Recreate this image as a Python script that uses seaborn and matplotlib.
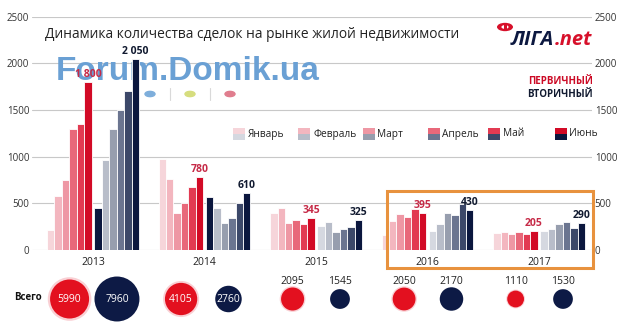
import matplotlib
matplotlib.use("Agg")
import matplotlib.pyplot as plt
import numpy as np
import pandas as pd
import seaborn as sns
from matplotlib.patches import Rectangle, Circle

# ---- data -------------------------------------------------------------
years = ["2013", "2014", "2015", "2016", "2017"]
months = ["Январь", "Февраль", "Март", "Апрель", "Май", "Июнь"]

# primary market (Jan..Jun) per year
primary_2013 = [210, 580, 750, 1300, 1350, 1800]
primary_2014 = [980, 760, 400, 505, 680, 780]
primary_2015 = [400, 455, 290, 325, 280, 345]
primary_2016 = [165, 310, 390, 355, 435, 395]
primary_2017 = [180, 195, 170, 190, 170, 205]

# secondary market (Jan..Jun) per year
secondary_2013 = [450, 960, 1300, 1500, 1700, 2050]
secondary_2014 = [570, 450, 285, 345, 500, 610]
secondary_2015 = [260, 300, 195, 220, 245, 325]
secondary_2016 = [205, 275, 400, 370, 490, 430]
secondary_2017 = [205, 220, 275, 300, 240, 290]

total_primary = [5990, 4105, 2095, 2050, 1110]
total_secondary = [7960, 2760, 1545, 2170, 1530]

primary = [primary_2013, primary_2014, primary_2015, primary_2016, primary_2017]
secondary = [secondary_2013, secondary_2014, secondary_2015, secondary_2016, secondary_2017]

# years whose January secondary bar is shown in the darkest navy
dark_jan_secondary = ["2013", "2014"]

y_ticks = [0, 500, 1000, 1500, 2000, 2500]

# ---- style ------------------------------------------------------------
red_shades = ["#f6d5da", "#f3b6bf", "#ee97a4", "#e8687a", "#e23a52", "#d20a26"]
navy_shades = ["#d5d8e0", "#b8bdc9", "#979eae", "#6b7590", "#3c4869", "#0b173e"]
RED_LABEL = "#c62a47"
NAVY_LABEL = "#111a30"

sns.set_theme(style="white")
plt.rcParams["font.family"] = ["Open Sans", "DejaVu Sans"]

W, H, DPI = 634, 332, 100
fig = plt.figure(figsize=(W / DPI, H / DPI), dpi=DPI)
fig.patch.set_facecolor("white")


def fx(x):
    return x / W


def fy(y):
    return 1 - y / H


AX_L, AX_R, AX_T, AX_B = 32, 592, 16.7, 250
XLIM = (-0.547, 4.475)
ax = fig.add_axes([fx(AX_L), fy(AX_B), (AX_R - AX_L) / W, (AX_B - AX_T) / H])

# ---- bars -------------------------------------------------------------
OFF = 0.212
rows_p, rows_s = [], []
for i, yr in enumerate(years):
    for m, vp, vs in zip(months, primary[i], secondary[i]):
        rows_p.append({"pos": i - OFF, "month": m, "value": vp})
        rows_s.append({"pos": i + OFF, "month": m, "value": vs})
df_p = pd.DataFrame(rows_p)
df_s = pd.DataFrame(rows_s)

common = dict(x="pos", y="value", hue="month", hue_order=months,
              native_scale=True, width=0.4, errorbar=None, legend=False,
              saturation=1, edgecolor="white", linewidth=0.6, ax=ax, zorder=2)
sns.barplot(data=df_p, palette=red_shades, **common)
sns.barplot(data=df_s, palette=navy_shades, **common)

for j, yr in enumerate(years):
    if yr in dark_jan_secondary:
        ax.containers[6][j].set_facecolor(navy_shades[-1])


def fmt(v):
    return f"{v:,}".replace(",", "\u00a0")


ax.bar_label(ax.containers[5], labels=[fmt(p[-1]) for p in primary],
             padding=1.5, color=RED_LABEL, fontweight="bold", fontsize=7.5, zorder=4)
ax.bar_label(ax.containers[11], labels=[fmt(s[-1]) for s in secondary],
             padding=1.5, color=NAVY_LABEL, fontweight="bold", fontsize=7.5, zorder=4)

ax.set_xlim(*XLIM)
ax.set_ylim(0, 2500)
ax.set_xticks(range(len(years)), years)
ax.set_yticks(y_ticks, [str(t) for t in y_ticks])
ax.set_xlabel("")
ax.set_ylabel("")
for s in ax.spines.values():
    s.set_visible(False)
ax.grid(axis="y", color="#c8c8c8", linewidth=0.8)
ax.grid(axis="x", visible=False)
ax.set_axisbelow(True)
ax.tick_params(axis="y", left=False, right=False, labelleft=True, labelright=True,
               length=0, pad=2, labelsize=7, labelcolor="#333333")
ax.tick_params(axis="x", bottom=False, length=0, pad=5, labelsize=7.5,
               labelcolor="#222222")
ax.patch.set_alpha(0)

# watermark sits above the grid but below the bars
ax.text(fx(56), fy(80), "Forum.Domik.ua", family="Liberation Sans",
        fontweight="bold", fontsize=24, color="#6aa0d4", va="baseline", ha="left",
        transform=fig.transFigure, clip_on=False, zorder=1)

# ---- title, dots, logo -------------------------------------------------
fig.text(fx(45), fy(34), "Динамика количества сделок на рынке жилой недвижимости",
         fontsize=9.9, color="#222222", va="center", ha="left")

for x, c in [(150, "#7eaedb"), (190, "#d6dd7e"), (230, "#e07d8e")]:
    fig.add_artist(Circle((fx(x), fy(94)), radius=5 / W, color=c,
                          transform=fig.transFigure))
for x in (170, 210):
    fig.add_artist(plt.Line2D([fx(x), fx(x)], [fy(88), fy(100)], color="#d9d9d9",
                              linewidth=0.8, transform=fig.transFigure))

fig.add_artist(Circle((fx(505), fy(27)), radius=8 / W, facecolor="#d7102a",
                      edgecolor="none", transform=fig.transFigure))
fig.add_artist(Circle((fx(505), fy(27)), radius=3.6 / W, facecolor="white",
                      edgecolor="none", transform=fig.transFigure))
fig.add_artist(Rectangle((fx(504), fy(31)), 3 / W, 7 / H, facecolor="#d7102a",
                         edgecolor="none", transform=fig.transFigure))
logo_a = fig.text(fx(511), fy(45), "ЛІГА", fontsize=14.5, fontweight="bold",
                  style="italic", color="#0c1840", va="baseline", ha="left")
renderer = fig.canvas.get_renderer()
ext = logo_a.get_window_extent(renderer)
fig.text(ext.x1 / W + 0.5 / W, fy(45), ".net", fontsize=14.5, fontweight="bold",
         style="italic", color="#d7102a", va="baseline", ha="left")

fig.text(fx(593), fy(81.5), "ПЕРВИЧНЫЙ", fontsize=7, fontweight="bold",
         color="#cc0a25", va="center", ha="right")
fig.text(fx(593), fy(94.5), "ВТОРИЧНЫЙ", fontsize=7, fontweight="bold",
         color="#111a30", va="center", ha="right")

# ---- month legend -----------------------------------------------------
legend_x = [(233, 248), (298, 313), (363, 377), (428, 442), (488, 503), (555, 569)]
for (sx, tx), m, rc, nc in zip(legend_x, months, red_shades, navy_shades):
    fig.add_artist(Rectangle((fx(sx), fy(134)), 12 / W, 6 / H, facecolor=rc,
                             edgecolor="none", transform=fig.transFigure))
    fig.add_artist(Rectangle((fx(sx), fy(140)), 12 / W, 6 / H, facecolor=nc,
                             edgecolor="none", transform=fig.transFigure))
    fig.text(fx(tx), fy(134), m, fontsize=7.3, color="#222222", va="center", ha="left")

# ---- highlight box ----------------------------------------------------
fig.add_artist(Rectangle((fx(387), fy(268)), (593 - 387) / W, (268 - 191) / H,
                         fill=False, edgecolor="#e8923e", linewidth=2.2,
                         transform=fig.transFigure, zorder=20))

# ---- totals bubbles ---------------------------------------------------
axb = fig.add_axes([fx(AX_L), 0, (AX_R - AX_L) / W, 70 / H])
axb.set_xlim(*XLIM)
axb.set_ylim(332, 262)
axb.axis("off")

BY = 299
df_b = pd.DataFrame({
    "x": [i - 0.21 for i in range(len(years))] + [i + 0.215 for i in range(len(years))],
    "y": [BY] * (2 * len(years)),
    "total": total_primary + total_secondary,
    "kind": ["primary"] * len(years) + ["secondary"] * len(years),
})
vmax = max(total_primary + total_secondary)
smax = 0.1317 * vmax
halo = df_b[df_b["kind"] == "primary"]
sns.scatterplot(data=halo, x="x", y="y", size="total", sizes=(0, smax * 1.25),
                size_norm=(0, vmax), color="#f07a86", alpha=0.35, linewidth=0,
                legend=False, ax=axb)
sns.scatterplot(data=df_b, x="x", y="y", size="total", sizes=(0, smax),
                size_norm=(0, vmax), hue="kind",
                palette={"primary": "#e3101f", "secondary": "#0d1a45"},
                linewidth=0, legend=False, ax=axb)
axb.set_xlim(*XLIM)
axb.set_ylim(332, 262)
axb.set_xlabel("")
axb.set_ylabel("")

for _, r in df_b.iterrows():
    if r["total"] >= 2500:
        axb.text(r["x"], BY, str(r["total"]), color="white", fontsize=7.5,
                 ha="center", va="center")
    else:
        axb.text(r["x"], 281, str(r["total"]), color="#222222", fontsize=7.5,
                 ha="center", va="center")

fig.text(fx(14), fy(297), "Всего", fontsize=7, fontweight="bold",
         color="#111111", va="center", ha="left")

fig.savefig("out.png", dpi=DPI, facecolor="white")
